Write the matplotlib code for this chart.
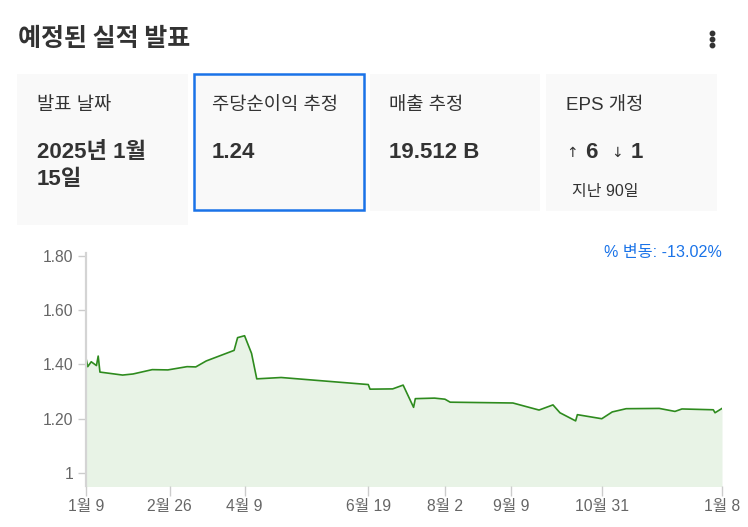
import matplotlib
matplotlib.use("Agg")
import matplotlib.pyplot as plt
from matplotlib.patches import Rectangle
from matplotlib.lines import Line2D
import pandas as pd

plt.rcParams['font.family'] = ['Liberation Sans', 'Noto Sans CJK KR', 'DejaVu Sans']

# ---------------- data ----------------
dates = ["2024-01-09", "2024-01-10", "2024-01-12", "2024-01-15", "2024-01-16", "2024-01-17",
         "2024-01-30", "2024-02-05", "2024-02-16", "2024-02-25", "2024-03-07", "2024-03-12",
         "2024-03-18", "2024-04-03", "2024-04-05", "2024-04-09", "2024-04-13", "2024-04-16",
         "2024-04-30", "2024-06-19", "2024-06-20", "2024-07-03", "2024-07-09", "2024-07-15",
         "2024-07-16", "2024-07-27", "2024-08-02", "2024-08-05", "2024-09-10", "2024-09-25",
         "2024-10-03", "2024-10-07", "2024-10-16", "2024-10-17", "2024-10-31", "2024-11-06",
         "2024-11-14", "2024-12-03", "2024-12-12", "2024-12-16", "2025-01-03", "2025-01-04",
         "2025-01-08"]
eps = [1.423, 1.392, 1.410, 1.396, 1.431, 1.372,
       1.361, 1.365, 1.381, 1.380, 1.392, 1.391,
       1.413, 1.452, 1.499, 1.506, 1.441, 1.347,
       1.352, 1.326, 1.309, 1.310, 1.324, 1.242,
       1.274, 1.276, 1.272, 1.261, 1.258, 1.232,
       1.251, 1.222, 1.192, 1.215, 1.200, 1.225,
       1.237, 1.238, 1.227, 1.236, 1.233, 1.222,
       1.238]
y_ticks = [1.0, 1.2, 1.4, 1.6, 1.8]
y_tick_labels = ["1", "1.20", "1.40", "1.60", "1.80"]
x_tick_dates = ["2024-01-09", "2024-02-26", "2024-04-09", "2024-06-19", "2024-08-02",
                "2024-09-09", "2024-10-31", "2025-01-08"]
x_tick_labels = ["1월 9", "2월 26", "4월 9", "6월 19", "8월 2", "9월 9", "10월 31", "1월 8"]

title = "예정된 실적 발표"
card_labels = ["발표 날짜", "주당순이익 추정", "매출 추정", "EPS 개정"]
report_date = ["2025년 1월", "15일"]
eps_estimate = "1.24"
revenue_estimate = "19.512 B"
revisions_up = "6"
revisions_down = "1"
revision_period = "지난 90일"
change_text = "% 변동: -13.02%"

# ---------------- figure ----------------
W, H = 748, 527
fig = plt.figure(figsize=(W / 100, H / 100), dpi=100)
fig.patch.set_facecolor("white")


def fx(x):
    return x / W


def fy(y):
    return 1 - y / H


def ftext(x, y, s, size, weight="normal", color="#333333", ha="left", va="center", **kw):
    fig.text(fx(x), fy(y), s, fontsize=size, fontweight=weight, color=color,
             ha=ha, va=va, **kw)


# title & menu dots
ftext(18, 38.5, title, 18, weight="bold", color="#333333",
      family=['Noto Sans CJK KR', 'DejaVu Sans'])
for yy in (33, 39, 45):
    fig.add_artist(Line2D([fx(712)], [fy(yy)], marker="o", markersize=3.2,
                          color="#333333", transform=fig.transFigure))

# cards
cards = [(17, 74, 171, 151), (194, 74, 170, 136), (370, 74, 170, 137), (546, 74, 171, 137)]
for i, (x, y, w, h) in enumerate(cards):
    ec = "#1a73e8" if i == 1 else "none"
    lw = 1.8 if i == 1 else 0
    fc = "#f9f9f9"
    fig.add_artist(Rectangle((fx(x), fy(y + h)), w / W, h / H, facecolor=fc,
                             edgecolor=ec, linewidth=lw, transform=fig.transFigure))

label_x = [37, 212, 389, 566]
for lx, lab in zip(label_x, card_labels):
    ftext(lx, 105.5, lab, 13.5, color="#333333")

ftext(37, 152, report_date[0], 16, weight="bold", color="#333333")
ftext(37, 179.5, report_date[1], 16, weight="bold", color="#333333")
ftext(212, 152.5, eps_estimate, 16, weight="bold", color="#333333")
ftext(389, 152.5, revenue_estimate, 16, weight="bold", color="#333333")
ftext(566, 153, "↑", 10, color="#333333", family=['DejaVu Sans'])
ftext(585, 152.5, revisions_up, 16, weight="bold", color="#333333")
ftext(611, 153, "↓", 10, color="#333333", family=['DejaVu Sans'])
ftext(631, 152.5, revisions_down, 16, weight="bold", color="#333333")
ftext(572, 191.5, revision_period, 11.5, color="#333333")

# change text
ftext(722, 252.5, change_text, 11.6, color="#1a73e8", ha="right")

# ---------------- chart ----------------
ax = fig.add_axes([fx(86), fy(486), (722 - 86) / W, (486 - 253) / H])
d = pd.to_datetime(dates)
ax.fill_between(d, eps, 0.9, color="#e8f3e6", linewidth=0)
ax.plot(d, eps, color="#2e8b1e", linewidth=1.2)

ax.set_ylim(0.952, 1.811)
ax.set_xlim(pd.Timestamp("2024-01-09"), pd.Timestamp("2025-01-08"))

ax.set_yticks(y_ticks)
ax.set_yticklabels(y_tick_labels)
ax.set_xticks(pd.to_datetime(x_tick_dates))
ax.set_xticklabels(x_tick_labels)

ax.tick_params(axis="y", length=6, width=1, color="#cccccc", labelcolor="#666666",
               labelsize=11.3, pad=3)
ax.tick_params(axis="x", length=7, width=1, color="#cccccc", labelcolor="#666666",
               labelsize=11.3, pad=2)

for s in ("top", "right", "bottom"):
    ax.spines[s].set_visible(False)
ax.spines["left"].set_color("#d4d4d4")
ax.spines["left"].set_linewidth(1.6)
ax.set_facecolor("none")

fig.savefig("out.png", dpi=100, facecolor="white")
